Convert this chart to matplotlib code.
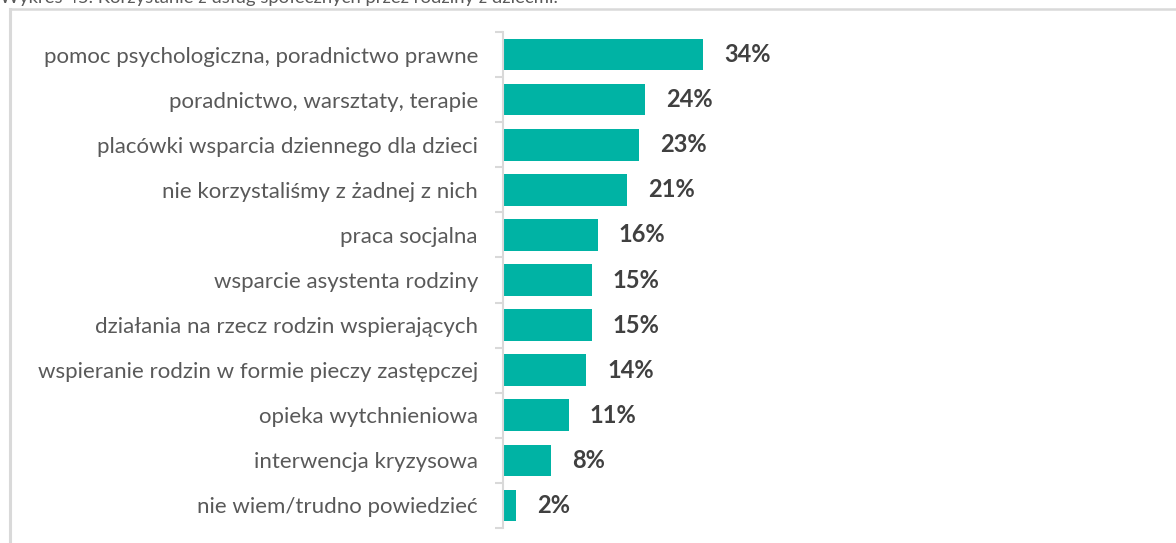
import matplotlib
matplotlib.use("Agg")
import matplotlib.pyplot as plt
from matplotlib.lines import Line2D

categories = [
    "pomoc psychologiczna, poradnictwo prawne",
    "poradnictwo, warsztaty, terapie",
    "placówki wsparcia dziennego dla dzieci",
    "nie korzystaliśmy z żadnej z nich",
    "praca socjalna",
    "wsparcie asystenta rodziny",
    "działania na rzecz rodzin wspierających",
    "wspieranie rodzin w formie pieczy zastępczej",
    "opieka wytchnieniowa",
    "interwencja kryzysowa",
    "nie wiem/trudno powiedzieć",
]
values = [34, 24, 23, 21, 16, 15, 15, 14, 11, 8, 2]
value_labels = ["34%", "24%", "23%", "21%", "16%", "15%", "15%", "14%", "11%", "8%", "2%"]
title = "Wykres 45. Korzystanie z usług społecznych przez rodziny z dziećmi."

W, H = 1176, 543
fig = plt.figure(figsize=(W / 100, H / 100), dpi=100)
fig.patch.set_facecolor("white")

# frame
fig.add_artist(Line2D([9.5 / W, 9.5 / W], [0, 1 - 9 / H], color="#d9d9d9", lw=2.2,
                      transform=fig.transFigure))
fig.add_artist(Line2D([9.5 / W, 1], [1 - 9 / H, 1 - 9 / H], color="#d9d9d9", lw=1.8,
                      transform=fig.transFigure))

# title (partially cut at top, as in the source)
fig.text(0.0, 1 - 3.5 / H, title, fontsize=13.3, color="#595959", family="Lato",
         va="baseline", ha="left")

ax_left, ax_right = 503 / W, 1150 / W
ax_bottom, ax_top = (H - 528) / H, (H - 32) / H
ax = fig.add_axes([ax_left, ax_bottom, ax_right - ax_left, ax_top - ax_bottom])
px_per_pct = 5.86
ax.set_xlim(0, (1150 - 503) / px_per_pct)
n = len(categories)
ax.set_ylim(n - 0.5, -0.5)

ypos = list(range(n))
ax.barh(ypos, values, height=0.70, color="#00b3a4", left=0.2)

for y, v, lab in zip(ypos, values, value_labels):
    ax.annotate(lab, (v, y), xytext=(22, 0), textcoords="offset pixels",
                ha="left", va="center", fontsize=17, fontweight="bold",
                color="#404040", family="Lato")

for s in ["top", "right", "bottom"]:
    ax.spines[s].set_visible(False)
ax.spines["left"].set_color("#d9d9d9")
ax.spines["left"].set_linewidth(1.5)
ax.set_xticks([])
ax.set_yticks([i - 0.5 for i in range(n + 1)], minor=False)
ax.set_yticklabels([])
ax.tick_params(axis="y", length=6, width=1.5, color="#d9d9d9")
ax.set_yticks(ypos, minor=True)
ax.set_yticklabels(categories, minor=True, fontsize=16, color="#595959", family="Lato")
ax.tick_params(axis="y", which="minor", length=0, pad=18)

fig.savefig("out.png", dpi=100, facecolor="white")
